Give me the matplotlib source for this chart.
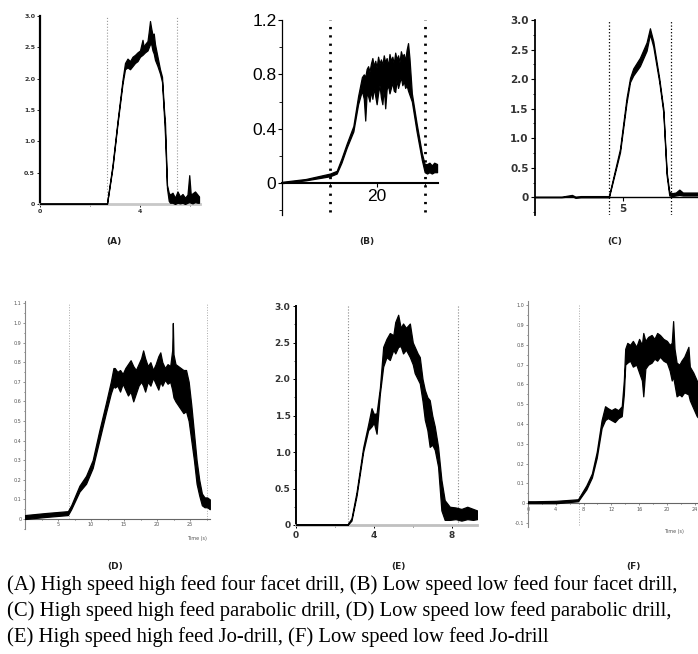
import numpy as np
import matplotlib
matplotlib.use('Agg')
import matplotlib.pyplot as plt
from matplotlib.ticker import MultipleLocator, FixedLocator

W, H = 698, 654

# ---------------- data (x, lower edge, upper edge) ----------------
# (A) high speed high feed four facet drill
a_x = [0, 2.68, 2.9, 3.1, 3.3, 3.4, 3.5, 3.6, 3.7, 3.8, 3.9, 4.0, 4.1, 4.15, 4.2, 4.3, 4.35, 4.4, 4.45,
       4.5, 4.55, 4.6, 4.65, 4.7, 4.8, 4.88, 4.96, 5.0, 5.08, 5.15, 5.2, 5.3, 5.4, 5.5, 5.6, 5.7, 5.8,
       5.9, 5.97, 6.03, 6.1, 6.2, 6.3, 6.36]
a_lo = [0, 0, 0.58, 1.28, 1.92, 2.15, 2.18, 2.15, 2.2, 2.25, 2.28, 2.35, 2.38, 2.4, 2.42, 2.45, 2.5, 2.55, 2.55,
        2.45, 2.4, 2.3, 2.25, 2.2, 2.08, 1.95, 1.4, 1.1, 0.25, 0.05, 0.02, 0.02, 0.0, 0.02, 0.01, 0.02, 0.0,
        0.02, 0.03, 0.02, 0.01, 0.03, 0.02, 0.02]
a_hi = [0.01, 0.01, 0.62, 1.32, 1.98, 2.25, 2.32, 2.28, 2.35, 2.38, 2.42, 2.45, 2.62, 2.5, 2.55, 2.6, 2.75, 2.92, 2.8,
        2.7, 2.72, 2.55, 2.45, 2.35, 2.15, 2.03, 1.5, 1.3, 0.3, 0.18, 0.15, 0.18, 0.1, 0.2, 0.12, 0.16, 0.1,
        0.15, 0.46, 0.15, 0.17, 0.2, 0.15, 0.12]
a_marks = [2.68, 5.48]

# (B) low speed low feed four facet drill
b_x = [0.2, 5, 10.1, 11.5, 12.5, 13.6, 15, 16, 16.8,
       17.2, 17.5, 17.8, 18.1, 18.4, 18.7, 19.0, 19.3, 19.6, 19.9, 20.2, 20.5, 20.8, 21.1, 21.4, 21.7,
       22.0, 22.3, 22.6, 22.9, 23.2, 23.5, 23.8, 24.1, 24.4, 24.7, 25.0, 25.3, 25.6, 25.9, 26.2, 26.5, 26.8,
       27.3, 28.3, 29.4, 30.0, 30.5, 31.0, 31.5, 32.0, 32.6]
b_lo = [0.0, 0.02, 0.05, 0.07, 0.15, 0.26, 0.38, 0.58, 0.68,
        0.62, 0.46, 0.66, 0.64, 0.60, 0.68, 0.62, 0.70, 0.64, 0.58, 0.66, 0.72, 0.63, 0.58, 0.70, 0.55,
        0.69, 0.72, 0.66, 0.70, 0.74, 0.68, 0.67, 0.76, 0.70, 0.74, 0.78, 0.72, 0.75, 0.70, 0.72, 0.68, 0.65,
        0.60, 0.38, 0.17, 0.08, 0.07, 0.08, 0.07, 0.08, 0.08]
b_hi = [0.01, 0.03, 0.07, 0.09, 0.18, 0.29, 0.42, 0.64, 0.78,
        0.80, 0.78, 0.84, 0.86, 0.82, 0.88, 0.92, 0.86, 0.90, 0.85, 0.93, 0.88, 0.91, 0.87, 0.94, 0.89,
        0.92, 0.86, 0.95, 0.90, 0.93, 0.88, 0.96, 0.91, 0.94, 0.89, 0.97, 0.93, 0.95, 0.90, 0.98, 1.03, 0.92,
        0.66, 0.44, 0.22, 0.14, 0.14, 0.15, 0.13, 0.15, 0.14]
b_marks = [10.1, 30.1]

# (C) high speed high feed parabolic drill
c_x = [0, 1.5, 2.1, 2.3, 2.6, 4.2, 4.83, 5.2, 5.4, 5.58, 5.96, 6.34, 6.53, 6.72, 7.06, 7.29, 7.38,
       7.48, 7.63, 7.8, 8.0, 8.2, 8.4, 8.8, 9.3, 10]
c_lo = [0, 0, 0.02, -0.01, 0.0, 0.0, 0.76, 1.6, 1.95, 2.06, 2.22, 2.48, 2.76, 2.55, 1.95, 1.44, 0.93,
        0.37, 0.03, 0.02, 0.03, 0.04, 0.03, 0.03, 0.03, 0.03]
c_hi = [0.01, 0.01, 0.04, 0.01, 0.02, 0.02, 0.82, 1.68, 2.02, 2.18, 2.36, 2.62, 2.86, 2.64, 2.01, 1.5, 0.99,
        0.43, 0.09, 0.07, 0.08, 0.13, 0.08, 0.08, 0.08, 0.08]
c_marks = [4.2, 7.7]

# (D) low speed low feed parabolic drill
d_x = [0, 3, 6.5, 7, 8.25, 9.25, 10.25, 11.25, 12.25, 13.0, 13.4,
       13.6, 14.0, 14.4, 14.8, 15.2, 15.6, 16.0, 16.4, 16.8, 17.2, 17.6, 17.9, 18.2, 18.6, 19.0,
       19.4, 19.8, 20.2, 20.5, 20.8, 21.2, 21.6, 22.0, 22.3, 22.4, 22.5, 22.8, 23.2, 23.6, 24.0,
       24.4, 24.8, 25.2, 25.6, 26.0, 26.4, 26.8, 27.2, 27.6, 28.0]
d_lo = [0.0, 0.01, 0.02, 0.05, 0.14, 0.18, 0.26, 0.40, 0.54, 0.64, 0.68,
        0.67, 0.68, 0.65, 0.69, 0.66, 0.63, 0.65, 0.60, 0.64, 0.68, 0.70, 0.68, 0.65, 0.70, 0.68,
        0.72, 0.69, 0.66, 0.70, 0.68, 0.71, 0.69, 0.70, 0.66, 0.64, 0.62, 0.60, 0.58, 0.56, 0.54,
        0.55, 0.50, 0.40, 0.30, 0.18, 0.12, 0.07, 0.06, 0.06, 0.05]
d_hi = [0.02, 0.03, 0.04, 0.07, 0.17, 0.22, 0.30, 0.45, 0.59, 0.70, 0.77,
        0.77, 0.75, 0.76, 0.74, 0.77, 0.79, 0.81, 0.78, 0.76, 0.79, 0.82, 0.86, 0.82, 0.78, 0.80,
        0.76, 0.79, 0.83, 0.85, 0.80, 0.77, 0.79, 0.78, 0.86, 1.0, 0.84, 0.79, 0.78, 0.77, 0.76,
        0.76, 0.70, 0.58, 0.44, 0.30, 0.20, 0.13, 0.11, 0.11, 0.10]
d_marks = [6.6, 27.6]

# (E) high speed high feed Jo-drill
e_x = [0, 2.65, 2.85, 3.11, 3.45, 3.71, 3.88, 4.0, 4.14, 4.31, 4.48, 4.65, 4.82, 5.0, 5.1, 5.25, 5.38,
       5.5, 5.65, 5.85, 6.0, 6.1, 6.25, 6.36, 6.5, 6.62, 6.75, 6.87, 7.0, 7.13, 7.3, 7.47, 7.64, 7.9,
       8.2, 8.5, 8.8, 9.1, 9.3]
e_lo = [0, 0, 0.06, 0.40, 1.0, 1.30, 1.35, 1.40, 1.25, 1.80, 2.17, 2.30, 2.26, 2.40, 2.35, 2.44, 2.45,
        2.35, 2.40, 2.30, 2.20, 2.08, 2.0, 1.94, 1.70, 1.44, 1.30, 1.07, 1.10, 1.03, 0.80, 0.20, 0.07, 0.07,
        0.08, 0.06, 0.08, 0.07, 0.08]
e_hi = [0.01, 0.01, 0.09, 0.45, 1.06, 1.38, 1.60, 1.52, 1.53, 1.88, 2.44, 2.55, 2.63, 2.60, 2.78, 2.88, 2.70,
        2.76, 2.70, 2.76, 2.50, 2.44, 2.35, 2.30, 2.0, 1.85, 1.75, 1.71, 1.50, 1.35, 1.07, 0.62, 0.34, 0.25,
        0.24, 0.22, 0.25, 0.22, 0.20]
e_marks = [2.65, 8.3]

# (F) low speed low feed Jo-drill
f_x = [0, 1, 4, 7.2, 8.4, 9.2, 9.9, 10.6, 11.1, 11.5, 12.0, 12.5, 13.0, 13.5, 13.8, 14.0, 14.3, 14.7,
       15.1, 15.6, 16.0, 16.4, 16.6, 16.9, 17.3, 17.8, 18.2, 18.6, 19.0, 19.5, 20.0, 20.4, 20.7, 20.9,
       21.1, 21.4, 21.8, 22.1, 22.5, 23.1, 23.3, 23.8, 24.3, 24.8, 25.2]
f_lo = [0, 0, 0, 0.01, 0.07, 0.13, 0.23, 0.38, 0.42, 0.43, 0.42, 0.41, 0.43, 0.44, 0.55, 0.70, 0.71, 0.72,
        0.69, 0.70, 0.66, 0.62, 0.54, 0.68, 0.70, 0.71, 0.73, 0.72, 0.74, 0.72, 0.71, 0.67, 0.62, 0.64,
        0.60, 0.54, 0.55, 0.54, 0.56, 0.55, 0.52, 0.48, 0.44, 0.42, 0.40]
f_hi = [0.01, 0.01, 0.012, 0.02, 0.09, 0.15, 0.26, 0.42, 0.49, 0.48, 0.47, 0.48, 0.47, 0.49, 0.62, 0.78, 0.81, 0.80,
        0.82, 0.79, 0.83, 0.80, 0.86, 0.82, 0.84, 0.85, 0.83, 0.86, 0.85, 0.83, 0.82, 0.80, 0.81, 0.92,
        0.78, 0.71, 0.70, 0.72, 0.74, 0.79, 0.69, 0.66, 0.62, 0.58, 0.56]
f_marks = [7.3]

caption = ["(A) High speed high feed four facet drill, (B) Low speed low feed four facet drill,",
           "(C) High speed high feed parabolic drill, (D) Low speed low feed parabolic drill,",
           "(E) High speed high feed Jo-drill, (F) Low speed low feed Jo-drill"]


def box(left, top, right, bottom):
    # pixel box -> figure fraction rect
    return [left / W, 1 - bottom / H, (right - left) / W, (bottom - top) / H]


def trace(ax, x, lo, hi):
    ax.fill_between(x, lo, hi, facecolor='k', edgecolor='k', linewidth=0.9, zorder=3)


fig = plt.figure(figsize=(W / 100, H / 100), dpi=100)

# ---- (A)
ax = fig.add_axes(box(40, 16, 200, 204))
trace(ax, a_x, a_lo, a_hi)
ax.set_xlim(0, 6.4)
ax.set_ylim(0, 3.0)
for m in a_marks:
    ax.axvline(m, color='#999999', lw=0.8, ls=':')
ax.spines[['top', 'right']].set_visible(False)
ax.spines['left'].set_linewidth(1.6)
ax.spines['bottom'].set_color('#c8c8c8')
ax.spines['bottom'].set_linewidth(2)
ax.set_yticks(np.arange(0, 3.01, 0.5), ['0', '0.5', '1.0', '1.5', '2.0', '2.5', '3.0'])
ax.set_xticks([0, 4], ['0', '4'])
ax.xaxis.set_minor_locator(FixedLocator([2, 6]))
ax.tick_params(labelsize=4.5, length=2, width=0.6, pad=1.5, labelcolor='#333333')
ax.tick_params(which='minor', length=1.5, width=0.5)
for t in ax.get_xticklabels() + ax.get_yticklabels():
    t.set_fontweight('bold')

# ---- (B)
ax = fig.add_axes(box(282, 20, 438, 215))
trace(ax, b_x, b_lo, b_hi)
ax.set_xlim(0, 32.8)
ax.set_ylim(-0.235, 1.2)
for m in b_marks:
    ax.vlines(m, -0.21, 1.2, colors='k', lw=2, linestyles=(0, (0.8, 2.2)), clip_on=False)
ax.spines[['top', 'right']].set_visible(False)
ax.spines['bottom'].set_position(('data', 0))
ax.spines['bottom'].set_linewidth(1.5)
ax.spines['left'].set_linewidth(0.9)
ax.set_yticks([0, 0.4, 0.8, 1.2], ['0', '0.4', '0.8', '1.2'])
ax.yaxis.set_minor_locator(FixedLocator([-0.2, 0.2, 0.6, 1.0]))
ax.set_xticks([20], ['20'])
ax.xaxis.set_minor_locator(FixedLocator([10, 30]))
ax.tick_params(length=3, width=0.8, pad=1)
ax.tick_params(which='minor', length=2, width=0.6)
for t in ax.get_xticklabels() + ax.get_yticklabels():
    t.set_family('Liberation Sans')
    t.set_fontsize(12.5)

# ---- (C)
ax = fig.add_axes(box(535, 20, 711, 215))
trace(ax, c_x, c_lo, c_hi)
ax.set_xlim(0, 10)
ax.set_ylim(-0.3, 3.0)
for m in c_marks:
    ax.axvline(m, color='k', lw=0.9, ls=':')
ax.spines[['top', 'right']].set_visible(False)
ax.spines['bottom'].set_position(('data', 0))
ax.spines['bottom'].set_linewidth(1.0)
ax.spines['left'].set_linewidth(1.3)
ax.set_yticks(np.arange(0, 3.01, 0.5), ['0', '0.5', '1.0', '1.5', '2.0', '2.5', '3.0'])
ax.yaxis.set_minor_locator(MultipleLocator(0.25))
ax.set_xticks([5], ['5'])
ax.tick_params(labelsize=7.5, length=3, width=0.8, pad=1.5, labelcolor='#333333')
ax.tick_params(which='minor', length=1.8, width=0.6)
for t in ax.get_xticklabels() + ax.get_yticklabels():
    t.set_fontweight('bold')

# ---- (D)
ax = fig.add_axes(box(25, 301.4, 209.8, 528.8))
trace(ax, d_x, d_lo, d_hi)
ax.set_xlim(0, 28)
ax.set_ylim(-0.05, 1.11)
for m in d_marks:
    ax.vlines(m, 0, 1.1, colors='#aaaaaa', lw=0.7, linestyles=':')
ax.spines[['top', 'right']].set_visible(False)
ax.spines['bottom'].set_position(('data', 0))
ax.spines['bottom'].set_color('#666666')
ax.spines['left'].set_color('#888888')
ax.spines['bottom'].set_linewidth(0.8)
ax.spines['left'].set_linewidth(0.8)
ax.set_yticks(np.arange(0, 1.11, 0.1), ['0'] + ['%.1f' % v for v in np.arange(0.1, 1.11, 0.1)])
ax.yaxis.set_minor_locator(MultipleLocator(0.05))
ax.set_xticks([5, 10, 15, 20, 25])
ax.xaxis.set_minor_locator(MultipleLocator(2.5))
ax.tick_params(labelsize=3.5, length=1.5, width=0.5, pad=1, labelcolor='#555555', color='#666666')
ax.tick_params(which='minor', length=1, width=0.4)
ax.text(27.5, -0.1, 'Time (s)', fontsize=3.5, color='#555555', ha='right', va='center')

# ---- (E)
ax = fig.add_axes(box(296, 306, 477, 525))
trace(ax, e_x, e_lo, e_hi)
ax.set_xlim(0, 9.3)
ax.set_ylim(0, 3.0)
for m in e_marks:
    ax.axvline(m, color='#888888', lw=0.8, ls=':')
ax.spines[['top', 'right']].set_visible(False)
ax.spines['left'].set_linewidth(1.4)
ax.spines['bottom'].set_color('#c0c0c0')
ax.spines['bottom'].set_linewidth(2)
ax.set_yticks(np.arange(0, 3.01, 0.5), ['0', '0.5', '1.0', '1.5', '2.0', '2.5', '3.0'])
ax.yaxis.set_minor_locator(MultipleLocator(0.25))
ax.set_xticks([0, 4, 8], ['0', '4', '8'])
ax.xaxis.set_minor_locator(FixedLocator([2, 6]))
ax.tick_params(labelsize=6.5, length=2.5, width=0.7, pad=1.5, labelcolor='#333333')
ax.tick_params(which='minor', length=1.5, width=0.5)
for t in ax.get_xticklabels() + ax.get_yticklabels():
    t.set_fontweight('bold')

# ---- (F)
ax = fig.add_axes(box(528, 301.3, 703, 527))
trace(ax, f_x, f_lo, f_hi)
ax.set_xlim(0, 25.2)
ax.set_ylim(-0.12, 1.02)
for m in f_marks:
    ax.vlines(m, -0.11, 1.0, colors='#aaaaaa', lw=0.7, linestyles=':')
ax.spines[['top', 'right']].set_visible(False)
ax.spines['bottom'].set_position(('data', 0))
ax.spines['bottom'].set_color('#666666')
ax.spines['left'].set_color('#888888')
ax.spines['bottom'].set_linewidth(0.8)
ax.spines['left'].set_linewidth(0.8)
ax.set_yticks(np.arange(-0.1, 1.01, 0.1), ['-0.1', '0'] + ['%.1f' % v for v in np.arange(0.1, 1.01, 0.1)])
ax.yaxis.set_minor_locator(MultipleLocator(0.05))
ax.set_xticks([0, 4, 8, 12, 16, 20, 24])
ax.xaxis.set_minor_locator(MultipleLocator(2))
ax.tick_params(labelsize=3.5, length=1.5, width=0.5, pad=1, labelcolor='#555555', color='#666666')
ax.tick_params(which='minor', length=1, width=0.4)
ax.text(21, -0.145, 'Time (s)', fontsize=3.5, color='#555555', ha='center', va='center')

# ---- panel letters
for lab, px, py in [('(A)', 114, 242), ('(B)', 367, 242), ('(C)', 615, 242),
                    ('(D)', 115, 566), ('(E)', 398, 566), ('(F)', 633, 566)]:
    fig.text(px / W, 1 - py / H, lab, fontsize=6.5, fontweight='bold', ha='center', va='center',
             color='#222222')

# ---- caption
for i, line in enumerate(caption):
    fig.text(7 / W, 1 - (585 + 26 * i) / H, line, fontsize=14.9, family='Liberation Serif',
             ha='left', va='center')

fig.savefig('out.png', dpi=100)
